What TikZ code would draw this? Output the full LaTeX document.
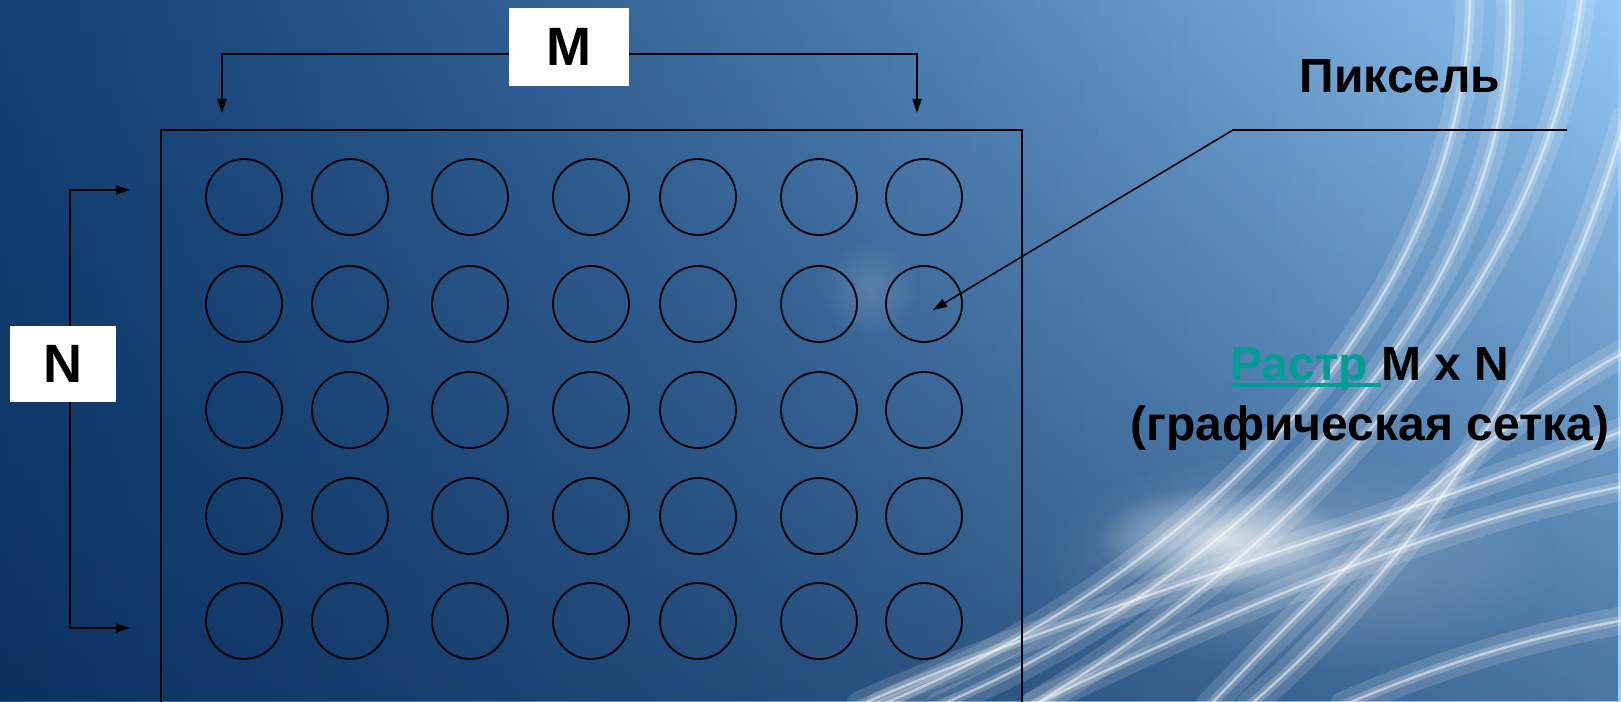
\documentclass[tikz,border=0pt]{standalone}
\usepackage{fontspec}
\setmainfont{Liberation Sans}
\usetikzlibrary{arrows.meta,fadings,positioning}

\definecolor{bgdeep}{RGB}{4,36,80}
\definecolor{bgmid}{RGB}{36,92,152}
\definecolor{bgsky}{RGB}{108,164,222}
\definecolor{bglight}{RGB}{150,202,248}
\definecolor{linkteal}{RGB}{0,158,150}

\tikzfading[name=fadeup, top color=transparent!100, bottom color=transparent!0]
\tikzfading[name=fadeleft, left color=transparent!0, middle color=transparent!80, right color=transparent!100]
\tikzfading[name=glowspot, inner color=transparent!0, outer color=transparent!100]

\newcommand\linkword[1]{\setbox0\hbox{#1}\rlap{\rule[-3.6pt]{\wd0}{2pt}}\box0}

\tikzset{
  pixel/.style={circle, draw, line width=0.9pt, minimum size=38pt, inner sep=0pt},
  letterbox/.style={fill=white, inner sep=0pt, font=\bfseries\fontsize{27}{30}\selectfont},
  guide/.style={line width=0.9pt, -{Triangle[length=7pt,width=4.5pt]}},
  caption/.style={font=\bfseries\fontsize{24}{28}\selectfont},
  widestreak/.style={white, line cap=round, opacity=0.14, line width=14pt},
  streak/.style={white, line cap=round, opacity=0.22, line width=5pt},
  thinstreak/.style={white, line cap=round, opacity=0.5, line width=1.2pt}
}

\begin{document}
\begin{tikzpicture}[x=0.5pt,y=-0.5pt]
\useasboundingbox (0,0) rectangle (1621,701);
\clip (0,0) rectangle (1621,701);

% background
\shade[left color=bgmid, middle color=bgsky, right color=bglight] (0,0) rectangle (1621,701);
\fill[bgdeep, opacity=0.5, path fading=fadeup] (0,0) rectangle (1621,701);
\fill[bgdeep, opacity=0.5, path fading=fadeleft] (0,0) rectangle (1621,701);
\fill[white, opacity=0.7, path fading=glowspot] (1225,540) ellipse (130 and 55);
\fill[white, opacity=0.25, path fading=glowspot] (1300,560) ellipse (260 and 110);
\fill[white, opacity=0.15, path fading=glowspot] (870,290) ellipse (50 and 50);

% light streaks
\foreach \w in {widestreak, streak, thinstreak} {
  \draw[\w] (1470,-5) .. controls (1468,310) and (1189,579) .. (880,705);
  \draw[\w] (1510,-5) .. controls (1520,290) and (1260,570) .. (940,705);
  \draw[\w] (1582,-5) .. controls (1551,258) and (1344,517) .. (1034,705);
  \draw[\w] (1625,120) .. controls (1560,350) and (1420,560) .. (1250,705);
  \draw[\w] (1210,705) .. controls (1350,560) and (1480,430) .. (1625,352);
  \draw[\w] (1034,705) .. controls (1250,600) and (1450,520) .. (1625,486);
  \draw[\w] (860,705) .. controls (1100,600) and (1400,520) .. (1625,430);
  \draw[\w] (1344,705) .. controls (1450,660) and (1540,635) .. (1625,620);
}

% frame
\draw[line width=0.9pt] (161,720) |- (1022,130) -- (1022,720);

% pixels
\foreach \r/\y in {1/197,2/304,3/410,4/516,5/621}
  \foreach \c/\x in {1/244,2/350,3/470,4/591,5/698,6/819,7/924}
    \node[pixel] (p\r\c) at (\x,\y) {};

% M
\node[letterbox, minimum width=60pt, minimum height=39pt] (mbox) at (569,47) {M};
\coordinate (mleft) at (222,113);
\coordinate (mright) at (917,113);
\draw[guide] ([yshift=-3.5pt]mbox.west) -| (mleft);
\draw[guide] ([yshift=-3.5pt]mbox.east) -| (mright);

% N
\node[letterbox, minimum width=53pt, minimum height=38pt] (nbox) at (63,364) {N};
\coordinate (ntop) at (130,190);
\coordinate (nbot) at (130,628);
\draw[guide] ([xshift=3.5pt]nbox.north) |- (ntop);
\draw[guide] ([xshift=3.5pt]nbox.south) |- (nbot);

% labels
\node[caption, anchor=base] (pixlabel) at (1400,93) {Пиксель};
\coordinate (leadend) at (1567,130);
\coordinate (leadbend) at (1233,130);
\draw[guide, line width=0.8pt] (leadend) -- (leadbend) -- ([shift={(9,6)}]p27.center);

\node[caption, anchor=base] (raster) at (1370,380) {\textcolor{linkteal}{\linkword{Растр }}M x N};
\node[caption, anchor=base] (rastnote) at (1370,440) {(графическая сетка)};
\end{tikzpicture}
\end{document}
